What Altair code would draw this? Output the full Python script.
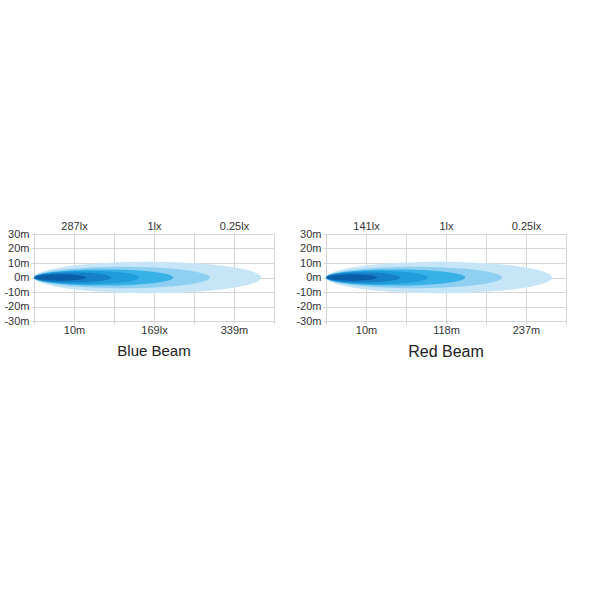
import altair as alt
import pandas as pd

# Grid columns along the beam axis and lateral distance ticks (metres)
grid_cols = [0, 1, 2, 3, 4, 5, 6]
lateral_ticks = [-30, -20, -10, 0, 10, 20, 30]
label_cols = [1, 3, 5]

# Axis annotations for each beam
blue_top = ["287lx", "1lx", "0.25lx"]
blue_bottom = ["10m", "169lx", "339m"]
red_top = ["141lx", "1lx", "0.25lx"]
red_bottom = ["10m", "118m", "237m"]

# Illumination zones, brightest (innermost) first:
# reach in grid columns, half-spread in metres
zone_colors = ["#085fa8", "#1580c8", "#1f9ddb", "#38b1e7", "#8fd0f2", "#c6e6f8"]
blue_reach = [1.30, 1.93, 2.63, 3.48, 4.40, 5.68]
blue_spread = [2.2, 3.5, 4.6, 5.6, 7.4, 10.8]
red_reach = [1.28, 1.85, 2.55, 3.48, 4.40, 5.65]
red_spread = [2.2, 3.5, 4.6, 5.6, 7.4, 10.8]

# Angular steps used to trace each zone outline
steps = list(range(0, 181, 3))

FONT = "Liberation Sans"
GRID = "#d6d6d6"
TEXT = "#333333"


def label_expr(values, labels):
    expr = "''"
    for v, lab in reversed(list(zip(values, labels))):
        expr = f"datum.value == {v} ? '{lab}' : ({expr})"
    return expr


def beam_panel(title, reach, spread, top_labels, bottom_labels, title_size, title_offset):
    zones = pd.DataFrame({
        "zone": list(range(len(reach))),
        "reach": reach,
        "spread": spread,
    })
    angles = pd.DataFrame({"deg": steps})
    outline = zones.merge(angles, how="cross")

    x_scale = alt.Scale(domain=[0, 6], nice=False, zero=False)
    y_scale = alt.Scale(domain=[-30, 30], nice=False)

    bottom_axis = alt.Axis(
        orient="bottom", values=grid_cols, grid=True, gridColor=GRID,
        domain=False, ticks=True, tickColor=GRID, tickSize=3,
        labelExpr=label_expr(label_cols, bottom_labels),
        labelFont=FONT, labelFontSize=11, labelColor=TEXT, labelPadding=0,
        title=None,
    )
    top_axis = alt.Axis(
        orient="top", values=label_cols, grid=False, domain=False, ticks=False,
        labelExpr=label_expr(label_cols, top_labels),
        labelFont=FONT, labelFontSize=11, labelColor=TEXT, labelPadding=3,
        title=None,
    )
    y_axis = alt.Axis(
        orient="left", values=lateral_ticks, grid=True, gridColor=GRID,
        domain=False, ticks=True, tickColor=GRID, tickSize=3,
        labelExpr="datum.value + 'm'", labelFont=FONT, labelFontSize=11,
        labelColor=TEXT, labelPadding=2, title=None,
    )

    frame = pd.DataFrame({"col": label_cols})

    # Axes and grid live on two invisible helper layers
    grid_layer = alt.Chart(frame).mark_point(opacity=0).encode(
        x=alt.X("col:Q", scale=x_scale, axis=bottom_axis),
        y=alt.Y("col:Q", scale=y_scale, axis=y_axis),
    )
    top_layer = alt.Chart(frame).mark_point(opacity=0).encode(
        x=alt.X("col:Q", scale=x_scale, axis=top_axis),
        y=alt.Y("col:Q", scale=y_scale, axis=None),
    )

    layers = [grid_layer]
    # widest zone first so brighter cores sit on top
    for i in reversed(range(len(reach))):
        layer = alt.Chart(outline).transform_filter(
            f"datum.zone == {i}"
        ).transform_calculate(
            bx="datum.reach / 2 * (1 - cos(datum.deg * PI / 180))",
            by="datum.spread * sin(datum.deg * PI / 180)",
            by2="0 - datum.spread * sin(datum.deg * PI / 180)",
        ).mark_area(color=zone_colors[i], opacity=1).encode(
            x=alt.X("bx:Q", scale=x_scale, axis=None),
            y=alt.Y("by:Q", scale=y_scale, axis=None),
            y2="by2:Q",
        )
        layers.append(layer)
    layers.append(top_layer)

    return alt.layer(*layers).resolve_axis(
        x="independent", y="independent"
    ).properties(
        width=240,
        height=87,
        title=alt.TitleParams(
            title, orient="bottom", font=FONT, fontSize=title_size,
            fontWeight="normal", color="#222222", offset=title_offset,
        ),
    )


blue = beam_panel("Blue Beam", blue_reach, blue_spread, blue_top, blue_bottom, 15, 9)
red = beam_panel("Red Beam", red_reach, red_spread, red_top, red_bottom, 16, 9)

chart = alt.hconcat(blue, red, spacing=20).properties(
    padding={"left": 3, "top": 219, "right": 5, "bottom": 5},
    background="white",
).configure_view(stroke=GRID, strokeWidth=1)

chart.save("out.html", embed_options={"renderer": "svg", "actions": False})
